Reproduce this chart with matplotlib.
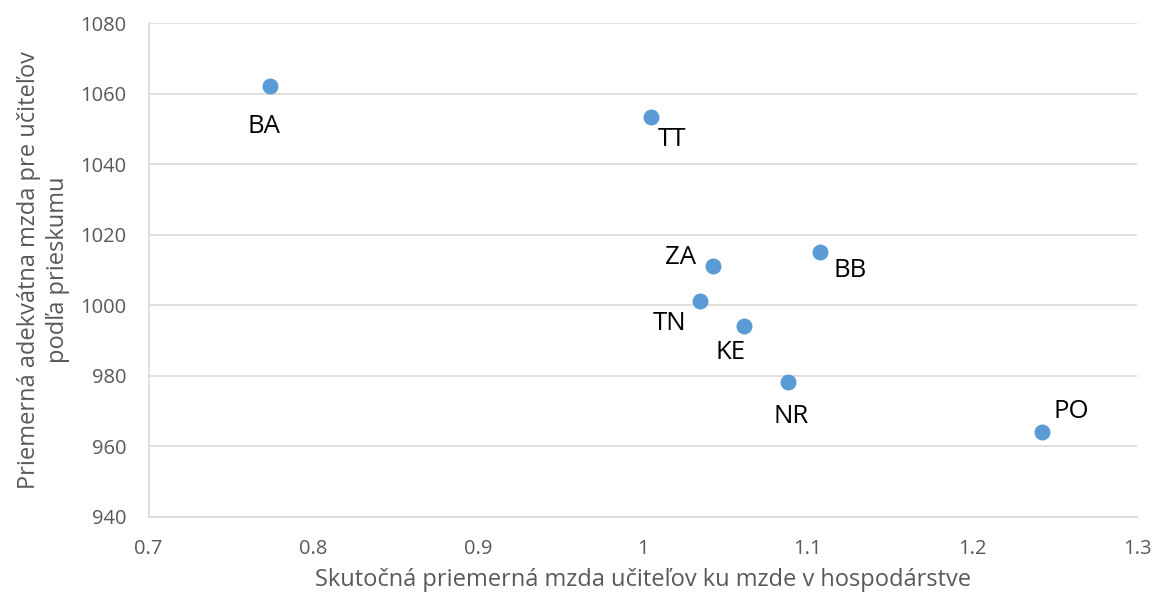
import matplotlib.pyplot as plt
import numpy as np

# kraje a hodnoty odcitane z grafu
kraje = ['BA', 'TT', 'ZA', 'BB', 'TN', 'KE', 'NR', 'PO']
pomer = [0.774, 1.005, 1.0425, 1.1076, 1.0346, 1.0613, 1.0884, 1.2423]
mzda = [1062.2, 1053.5, 1011.0, 1015.1, 1001.2, 994.2, 978.2, 964.0]
# posun popisov v pixeloch (dx, dy) - dy dole je kladne
posun = [(-6, 41), (21, 23), (-32, -9), (30, 18), (-30, 22), (-13, 27), (3, 34), (29, -21)]

plt.rcParams['font.family'] = ['Open Sans', 'DejaVu Sans']

fig = plt.figure(figsize=(11.54, 5.98), dpi=100)
ax = fig.add_axes([0.1287, 0.1355, 0.8566, 0.826])

ax.scatter(pomer, mzda, s=110, color='#5B9BD5', zorder=3)
for k, x, y, (dx, dy) in zip(kraje, pomer, mzda, posun):
    ax.annotate(k, (x, y), xytext=(dx * 0.72, -dy * 0.72), textcoords='offset points',
                ha='center', va='center', fontsize=18.5, color='black')

ax.set_xlim(0.7, 1.3)
ax.set_ylim(940, 1080)
ax.set_xticks(np.arange(0.7, 1.31, 0.1))
ax.set_xticklabels(['0.7', '0.8', '0.9', '1', '1.1', '1.2', '1.3'])
ax.set_yticks(np.arange(940, 1081, 20))

ax.grid(axis='y', color='#D9D9D9', linewidth=1.2)
ax.set_axisbelow(True)
for s in ['top', 'right']:
    ax.spines[s].set_visible(False)
for s in ['left', 'bottom']:
    ax.spines[s].set_color('#D9D9D9')
    ax.spines[s].set_linewidth(1.2)
ax.tick_params(length=0, labelsize=14.5, labelcolor='#595959')
ax.tick_params(axis='x', pad=16)
ax.tick_params(axis='y', pad=16)

ax.set_xlabel('Skutočná priemerná mzda učiteľov ku mzde v hospodárstve',
              fontsize=17, color='#595959', labelpad=6)
ax.set_ylabel('Priemerná adekvátna mzda pre učiteľov\npodľa prieskumu',
              fontsize=17, color='#595959', labelpad=7, linespacing=1.3)

fig.savefig('out.png', dpi=100)
